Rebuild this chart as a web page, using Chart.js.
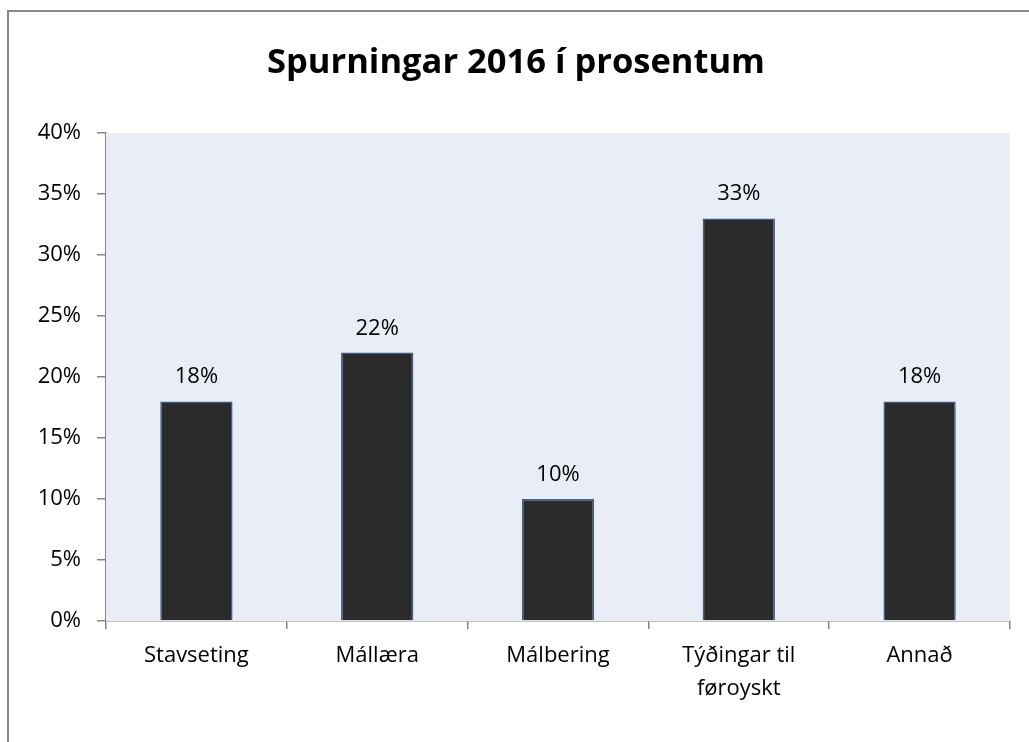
<!doctype html>
<html lang="is">
<head>
<meta charset="utf-8">
<script src="https://cdn.jsdelivr.net/npm/chart.js@4.4.1/dist/chart.umd.min.js"></script>
<style>
  body { margin: 0; background: #fff; }
  .wrap { position: relative; width: 1029px; height: 742px; overflow: hidden; }
  .frame { position: absolute; left: 7px; top: 10px; width: 1100px; height: 800px;
           border-top: 2px solid #8a8a8a; border-left: 2px solid #8a8a8a; }
  canvas { position: absolute; left: 0; top: 0; }
</style>
</head>
<body>
<div class="wrap">
  <div class="frame"></div>
  <canvas id="chart" width="1029" height="742"></canvas>
</div>
<script>
// chart data
const titleText = "Spurningar 2016 í prosentum";
const categories = ["Stavseting", "Mállæra", "Málbering", ["Týðingar til", "føroyskt"], "Annað"];
const values = [18, 22, 10, 33, 18];
const yTicks = [0, 5, 10, 15, 20, 25, 30, 35, 40];

const FONT = "'Open Sans', sans-serif";

// light plot background + title + value labels
const decor = {
  id: "decor",
  beforeDatasetsDraw(chart) {
    const a = chart.chartArea, ctx = chart.ctx;
    ctx.save();
    ctx.fillStyle = "#e9edf5";
    ctx.fillRect(a.left, a.top, a.right - a.left, a.bottom - a.top);
    ctx.restore();
  },
  afterDraw(chart) {
    const ctx = chart.ctx;
    ctx.save();
    ctx.fillStyle = "#000";
    ctx.textAlign = "center";
    ctx.textBaseline = "alphabetic";
    ctx.font = "bold 34.5px " + FONT;
    ctx.fillText(titleText, 516, 73);
    ctx.font = "22px " + FONT;
    chart.getDatasetMeta(0).data.forEach((bar, i) => {
      ctx.fillText(values[i] + "%", bar.x, bar.y - 18);
    });
    ctx.restore();
  }
};

new Chart(document.getElementById("chart"), {
  type: "bar",
  plugins: [decor],
  data: {
    labels: categories,
    datasets: [{
      data: values,
      backgroundColor: "#2b2b2b",
      borderColor: "#3f5f8c",
      borderWidth: 1.5,
      barPercentage: 0.4,
      categoryPercentage: 1
    }]
  },
  options: {
    responsive: false,
    animation: false,
    layout: { padding: { top: 133, right: 19, left: 0, bottom: 0 } },
    plugins: { legend: { display: false }, tooltip: { enabled: false }, title: { display: false } },
    scales: {
      x: {
        grid: { offset: true, drawOnChartArea: false, tickLength: 8, color: "#868686", lineWidth: 1.5 },
        border: { color: "#868686", width: 1.5 },
        ticks: { color: "#000", font: { family: FONT, size: 22, lineHeight: 1.5 }, padding: 10, maxRotation: 0 },
        afterFit(scale) { scale.height = 121; }
      },
      y: {
        min: 0, max: 40,
        afterBuildTicks(scale) { scale.ticks = yTicks.map(v => ({ value: v })); },
        grid: { drawOnChartArea: false, tickLength: 9, color: "#868686", lineWidth: 1.5 },
        border: { color: "#868686", width: 1.5 },
        ticks: { color: "#000", font: { family: FONT, size: 22 }, padding: 16, callback: v => v + "%" },
        afterFit(scale) { scale.width = 106; }
      }
    }
  }
});
</script>
</body>
</html>
